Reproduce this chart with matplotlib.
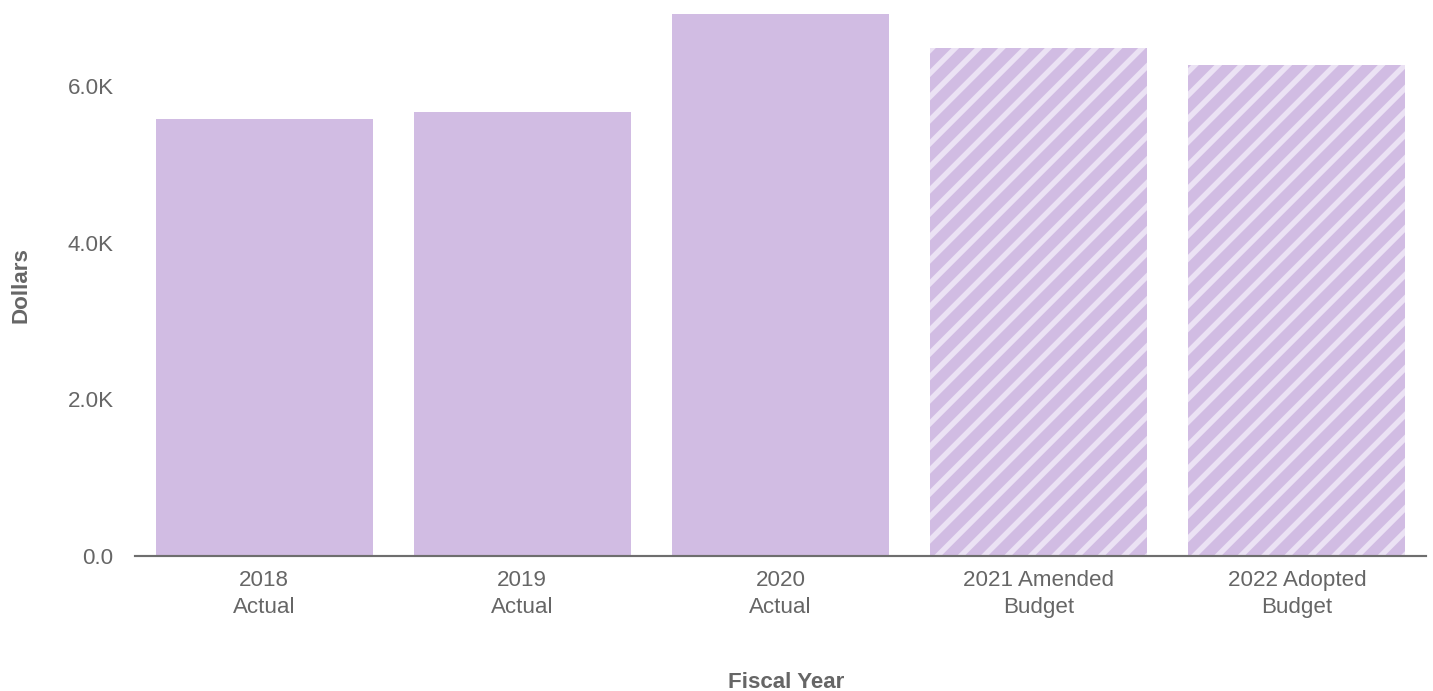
import matplotlib
matplotlib.use('Agg')
import matplotlib.pyplot as plt

# fiscal year spending
categories = ['2018\nActual', '2019\nActual', '2020\nActual', '2021 Amended\nBudget', '2022 Adopted\nBudget']
values = [5585, 5674, 6926, 6492, 6275]
is_budget = [False, False, False, True, True]
yticks = [0, 2000, 4000, 6000]
ytick_labels = ['0.0', '2.0K', '4.0K', '6.0K']

bar_color = '#d1bce3'
text_gray = '#666666'

plt.rcParams['font.family'] = ['Liberation Sans', 'DejaVu Sans']
plt.rcParams['hatch.color'] = '#ebe2f4'
plt.rcParams['hatch.linewidth'] = 2.8

dpi = 140
fig = plt.figure(figsize=(1434 / dpi, 691 / dpi), dpi=dpi)
ax = fig.add_axes([135 / 1434, 1 - 556 / 691, (1426 - 135) / 1434, (556 - 8) / 691])

x = list(range(len(categories)))
for i in x:
    ax.bar(i, values[i], width=0.84, color=bar_color, linewidth=0,
           hatch='//' if is_budget[i] else None)

ax.set_xlim(-0.5, 4.5)
ax.set_ylim(0, 7000)
ax.set_xticks(x)
ax.set_xticklabels(categories, fontsize=11.5, color=text_gray, linespacing=1.4)
ax.set_yticks(yticks)
ax.set_yticklabels(ytick_labels, fontsize=11.5, color=text_gray)
ax.tick_params(axis='both', length=0)
ax.tick_params(axis='x', pad=7)
ax.tick_params(axis='y', pad=11)

for side in ['top', 'right', 'left']:
    ax.spines[side].set_visible(False)
ax.spines['bottom'].set_color('#6e6e6e')
ax.spines['bottom'].set_linewidth(1.1)

fig.text(786 / 1434, 1 - 682 / 691, 'Fiscal Year', ha='center', va='center',
         fontsize=11.5, fontweight='bold', color=text_gray)
fig.text(21 / 1434, 1 - 285 / 691, 'Dollars', ha='center', va='center', rotation=90,
         fontsize=11.5, fontweight='bold', color=text_gray)

fig.savefig('out.png', dpi=dpi, facecolor='white')
